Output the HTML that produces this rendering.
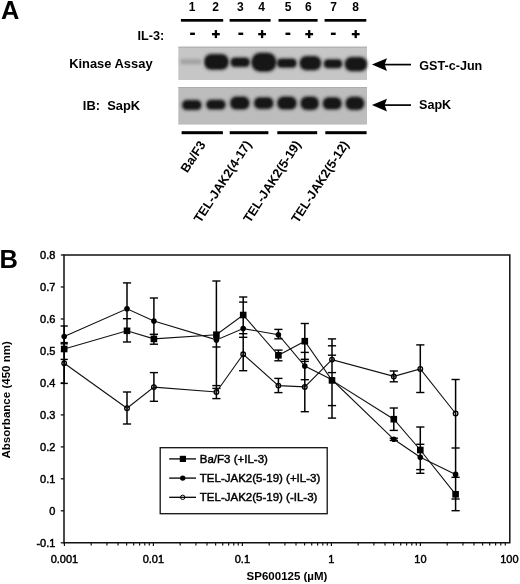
<!DOCTYPE html>
<html><head><meta charset="utf-8"><style>
html,body{margin:0;padding:0;background:#fff;}
body{width:520px;height:584px;overflow:hidden;}
svg{display:block;filter:blur(0.3px);font-family:"Liberation Sans", sans-serif;}
</style></head><body>
<svg width="520" height="584" viewBox="0 0 520 584">
<defs><filter id="bl" x="-10%" y="-30%" width="120%" height="160%"><feGaussianBlur stdDeviation="0.8"/></filter><filter id="bl2" x="-10%" y="-30%" width="120%" height="160%"><feGaussianBlur stdDeviation="1.6"/></filter></defs>
<rect width="520" height="584" fill="#fff"/>
<text x="1.0" y="19.0" font-size="25.4" font-weight="bold" text-anchor="start" >A</text>
<text x="192.2" y="10.8" font-size="12" font-weight="bold" text-anchor="middle" >1</text>
<text x="215.7" y="10.8" font-size="12" font-weight="bold" text-anchor="middle" >2</text>
<text x="240.4" y="10.8" font-size="12" font-weight="bold" text-anchor="middle" >3</text>
<text x="261.5" y="10.8" font-size="12" font-weight="bold" text-anchor="middle" >4</text>
<text x="288.0" y="10.8" font-size="12" font-weight="bold" text-anchor="middle" >5</text>
<text x="308.3" y="10.8" font-size="12" font-weight="bold" text-anchor="middle" >6</text>
<text x="333.5" y="10.8" font-size="12" font-weight="bold" text-anchor="middle" >7</text>
<text x="355.6" y="10.8" font-size="12" font-weight="bold" text-anchor="middle" >8</text>
<rect x="180.9" y="19.0" width="42.3" height="2.7" fill="#000"/>
<rect x="229.6" y="19.0" width="41.0" height="2.7" fill="#000"/>
<rect x="278.5" y="19.0" width="39.1" height="2.7" fill="#000"/>
<rect x="324.6" y="19.0" width="41.7" height="2.7" fill="#000"/>
<rect x="190.1" y="32.6" width="4.8" height="2.4" fill="#000"/>
<rect x="212.0" y="33.0" width="7.8" height="2.3" fill="#000"/>
<rect x="214.75" y="30.1" width="2.3" height="8.0" fill="#000"/>
<rect x="238.4" y="32.6" width="4.8" height="2.4" fill="#000"/>
<rect x="258.2" y="33.0" width="7.8" height="2.3" fill="#000"/>
<rect x="260.95" y="30.1" width="2.3" height="8.0" fill="#000"/>
<rect x="285.5" y="32.6" width="4.8" height="2.4" fill="#000"/>
<rect x="305.3" y="33.0" width="7.8" height="2.3" fill="#000"/>
<rect x="308.05" y="30.1" width="2.3" height="8.0" fill="#000"/>
<rect x="330.9" y="32.6" width="4.8" height="2.4" fill="#000"/>
<rect x="351.8" y="33.0" width="7.8" height="2.3" fill="#000"/>
<rect x="354.55" y="30.1" width="2.3" height="8.0" fill="#000"/>
<text x="164.3" y="40.0" font-size="12.7" font-weight="bold" text-anchor="end" >IL-3:</text>
<text x="69.2" y="67.7" font-size="12.9" font-weight="bold" text-anchor="start" >Kinase Assay</text>
<text x="82.8" y="109.6" font-size="12.9" font-weight="bold" text-anchor="start" >IB:&#160; SapK</text>
<rect x="178.3" y="46.7" width="188.7" height="33.3" fill="#c6c6c6"/><rect x="178.3" y="46.7" width="188.7" height="1.0" fill="#adadad"/><g filter="url(#bl2)"><rect x="179.3" y="58.0" width="23.4" height="7.4" rx="3.5" fill="#a4a4a4" opacity="0.35"/><rect x="203.1" y="53.0" width="26.6" height="17.8" rx="8.1" fill="#161616" opacity="0.35"/><rect x="229.6" y="56.4" width="21.2" height="11.6" rx="5.3" fill="#161616" opacity="0.35"/><rect x="250.4" y="51.7" width="27.0" height="21.0" rx="9.6" fill="#161616" opacity="0.35"/><rect x="276.0" y="57.4" width="21.6" height="11.4" rx="5.2" fill="#161616" opacity="0.35"/><rect x="298.6" y="55.1" width="23.6" height="16.1" rx="7.4" fill="#161616" opacity="0.35"/><rect x="322.8" y="58.3" width="20.4" height="10.9" rx="5.0" fill="#161616" opacity="0.35"/><rect x="343.7" y="56.1" width="24.4" height="16.1" rx="7.4" fill="#161616" opacity="0.35"/></g><g filter="url(#bl)"><rect x="180.8" y="59.5" width="20.4" height="4.4" rx="2.2" fill="#a4a4a4"/><rect x="204.6" y="54.5" width="23.6" height="14.8" rx="6.9" fill="#161616"/><rect x="231.1" y="57.9" width="18.2" height="8.6" rx="4.1" fill="#161616"/><rect x="251.9" y="53.2" width="24.0" height="18.0" rx="8.4" fill="#161616"/><rect x="277.5" y="58.9" width="18.6" height="8.4" rx="4.0" fill="#161616"/><rect x="300.1" y="56.6" width="20.6" height="13.1" rx="6.2" fill="#161616"/><rect x="324.3" y="59.8" width="17.4" height="7.9" rx="3.8" fill="#161616"/><rect x="345.2" y="57.6" width="21.4" height="13.1" rx="6.2" fill="#161616"/></g><rect x="178.3" y="87.0" width="188.7" height="37.6" fill="#bdbdbd"/><rect x="178.3" y="87.0" width="188.7" height="1.0" fill="#adadad"/><g filter="url(#bl2)"><rect x="181.1" y="99.1" width="21.4" height="11.9" rx="5.5" fill="#161616" opacity="0.35"/><rect x="205.2" y="98.7" width="21.4" height="11.9" rx="5.5" fill="#161616" opacity="0.35"/><rect x="229.1" y="95.5" width="21.4" height="15.1" rx="6.9" fill="#161616" opacity="0.35"/><rect x="253.0" y="96.3" width="21.4" height="13.7" rx="6.3" fill="#161616" opacity="0.35"/><rect x="276.2" y="95.5" width="21.4" height="15.1" rx="6.9" fill="#161616" opacity="0.35"/><rect x="299.5" y="95.5" width="20.4" height="15.5" rx="7.1" fill="#161616" opacity="0.35"/><rect x="321.7" y="96.3" width="21.0" height="14.3" rx="6.6" fill="#161616" opacity="0.35"/><rect x="344.5" y="95.8" width="20.8" height="15.2" rx="7.0" fill="#161616" opacity="0.35"/></g><g filter="url(#bl)"><rect x="182.6" y="100.6" width="18.4" height="8.9" rx="4.3" fill="#161616"/><rect x="206.7" y="100.2" width="18.4" height="8.9" rx="4.3" fill="#161616"/><rect x="230.6" y="97.0" width="18.4" height="12.1" rx="5.7" fill="#161616"/><rect x="254.5" y="97.8" width="18.4" height="10.7" rx="5.1" fill="#161616"/><rect x="277.7" y="97.0" width="18.4" height="12.1" rx="5.7" fill="#161616"/><rect x="301.0" y="97.0" width="17.4" height="12.5" rx="5.9" fill="#161616"/><rect x="323.2" y="97.8" width="18.0" height="11.3" rx="5.4" fill="#161616"/><rect x="346.0" y="97.3" width="17.8" height="12.2" rx="5.8" fill="#161616"/></g>
<path d="M371.9 64.6 L387.0 58.3 L384.6 64.6 L387.0 70.9 Z" fill="#000"/>
<rect x="384" y="63.75" width="27" height="1.7" fill="#000"/>
<path d="M371.9 105.1 L387.0 98.8 L384.6 105.1 L387.0 111.4 Z" fill="#000"/>
<rect x="384" y="104.25" width="27" height="1.7" fill="#000"/>
<text x="419.3" y="70.3" font-size="12.6" font-weight="bold" text-anchor="start" >GST-c-Jun</text>
<text x="419.0" y="108.9" font-size="12.6" font-weight="bold" text-anchor="start" >SapK</text>
<rect x="181.6" y="131.2" width="41.3" height="3.0" fill="#000"/>
<rect x="229.7" y="131.2" width="38.7" height="3.0" fill="#000"/>
<rect x="277.3" y="131.2" width="39.9" height="3.0" fill="#000"/>
<rect x="325.3" y="131.2" width="41.3" height="3.0" fill="#000"/>
<text x="0" y="0" font-size="12.7" font-weight="bold" text-anchor="end" transform="translate(206.1 144.5) rotate(-57)">Ba/F3</text>
<text x="0" y="0" font-size="12.7" font-weight="bold" text-anchor="end" transform="translate(252.0 144.2) rotate(-57)">TEL-JAK2(4-17)</text>
<text x="0" y="0" font-size="12.7" font-weight="bold" text-anchor="end" transform="translate(301.4 144.2) rotate(-57)">TEL-JAK2(5-19)</text>
<text x="0" y="0" font-size="12.7" font-weight="bold" text-anchor="end" transform="translate(349.4 144.4) rotate(-57)">TEL-JAK2(5-12)</text>
<text x="-0.5" y="267.6" font-size="25.5" font-weight="bold" text-anchor="start" >B</text>
<path d="M64.0 255.0 H509.8 V542.8 H64.0 Z" fill="none" stroke="#111" stroke-width="1.5"/>
<line x1="60.8" y1="255.0" x2="64.0" y2="255.0" stroke="#111" stroke-width="1.3"/>
<text x="55.4" y="259.0" font-size="11" font-weight="normal" text-anchor="end" stroke="#000" stroke-width="0.45" >0.8</text>
<line x1="60.8" y1="287.0" x2="64.0" y2="287.0" stroke="#111" stroke-width="1.3"/>
<text x="55.4" y="290.97777777777776" font-size="11" font-weight="normal" text-anchor="end" stroke="#000" stroke-width="0.45" >0.7</text>
<line x1="60.8" y1="319.0" x2="64.0" y2="319.0" stroke="#111" stroke-width="1.3"/>
<text x="55.4" y="322.9555555555555" font-size="11" font-weight="normal" text-anchor="end" stroke="#000" stroke-width="0.45" >0.6</text>
<line x1="60.8" y1="350.9" x2="64.0" y2="350.9" stroke="#111" stroke-width="1.3"/>
<text x="55.4" y="354.93333333333334" font-size="11" font-weight="normal" text-anchor="end" stroke="#000" stroke-width="0.45" >0.5</text>
<line x1="60.8" y1="382.9" x2="64.0" y2="382.9" stroke="#111" stroke-width="1.3"/>
<text x="55.4" y="386.9111111111111" font-size="11" font-weight="normal" text-anchor="end" stroke="#000" stroke-width="0.45" >0.4</text>
<line x1="60.8" y1="414.9" x2="64.0" y2="414.9" stroke="#111" stroke-width="1.3"/>
<text x="55.4" y="418.88888888888886" font-size="11" font-weight="normal" text-anchor="end" stroke="#000" stroke-width="0.45" >0.3</text>
<line x1="60.8" y1="446.9" x2="64.0" y2="446.9" stroke="#111" stroke-width="1.3"/>
<text x="55.4" y="450.8666666666667" font-size="11" font-weight="normal" text-anchor="end" stroke="#000" stroke-width="0.45" >0.2</text>
<line x1="60.8" y1="478.8" x2="64.0" y2="478.8" stroke="#111" stroke-width="1.3"/>
<text x="55.4" y="482.84444444444443" font-size="11" font-weight="normal" text-anchor="end" stroke="#000" stroke-width="0.45" >0.1</text>
<line x1="60.8" y1="510.8" x2="64.0" y2="510.8" stroke="#111" stroke-width="1.3"/>
<text x="55.4" y="514.8222222222222" font-size="11" font-weight="normal" text-anchor="end" stroke="#000" stroke-width="0.45" >0</text>
<line x1="60.8" y1="542.8" x2="64.0" y2="542.8" stroke="#111" stroke-width="1.3"/>
<text x="55.4" y="546.8" font-size="11" font-weight="normal" text-anchor="end" stroke="#000" stroke-width="0.45" >-0.1</text>
<line x1="64.4" y1="542.8" x2="64.4" y2="546.0" stroke="#111" stroke-width="1.2"/>
<line x1="91.2" y1="542.8" x2="91.2" y2="545.4" stroke="#111" stroke-width="1.2"/>
<line x1="106.9" y1="542.8" x2="106.9" y2="545.4" stroke="#111" stroke-width="1.2"/>
<line x1="118.0" y1="542.8" x2="118.0" y2="545.4" stroke="#111" stroke-width="1.2"/>
<line x1="126.6" y1="542.8" x2="126.6" y2="545.4" stroke="#111" stroke-width="1.2"/>
<line x1="133.7" y1="542.8" x2="133.7" y2="545.4" stroke="#111" stroke-width="1.2"/>
<line x1="139.6" y1="542.8" x2="139.6" y2="545.4" stroke="#111" stroke-width="1.2"/>
<line x1="144.8" y1="542.8" x2="144.8" y2="545.4" stroke="#111" stroke-width="1.2"/>
<line x1="149.3" y1="542.8" x2="149.3" y2="545.4" stroke="#111" stroke-width="1.2"/>
<line x1="153.4" y1="542.8" x2="153.4" y2="546.0" stroke="#111" stroke-width="1.2"/>
<line x1="180.2" y1="542.8" x2="180.2" y2="545.4" stroke="#111" stroke-width="1.2"/>
<line x1="195.9" y1="542.8" x2="195.9" y2="545.4" stroke="#111" stroke-width="1.2"/>
<line x1="207.0" y1="542.8" x2="207.0" y2="545.4" stroke="#111" stroke-width="1.2"/>
<line x1="215.6" y1="542.8" x2="215.6" y2="545.4" stroke="#111" stroke-width="1.2"/>
<line x1="222.7" y1="542.8" x2="222.7" y2="545.4" stroke="#111" stroke-width="1.2"/>
<line x1="228.6" y1="542.8" x2="228.6" y2="545.4" stroke="#111" stroke-width="1.2"/>
<line x1="233.8" y1="542.8" x2="233.8" y2="545.4" stroke="#111" stroke-width="1.2"/>
<line x1="238.3" y1="542.8" x2="238.3" y2="545.4" stroke="#111" stroke-width="1.2"/>
<line x1="242.4" y1="542.8" x2="242.4" y2="546.0" stroke="#111" stroke-width="1.2"/>
<line x1="269.2" y1="542.8" x2="269.2" y2="545.4" stroke="#111" stroke-width="1.2"/>
<line x1="284.9" y1="542.8" x2="284.9" y2="545.4" stroke="#111" stroke-width="1.2"/>
<line x1="296.0" y1="542.8" x2="296.0" y2="545.4" stroke="#111" stroke-width="1.2"/>
<line x1="304.6" y1="542.8" x2="304.6" y2="545.4" stroke="#111" stroke-width="1.2"/>
<line x1="311.7" y1="542.8" x2="311.7" y2="545.4" stroke="#111" stroke-width="1.2"/>
<line x1="317.6" y1="542.8" x2="317.6" y2="545.4" stroke="#111" stroke-width="1.2"/>
<line x1="322.8" y1="542.8" x2="322.8" y2="545.4" stroke="#111" stroke-width="1.2"/>
<line x1="327.3" y1="542.8" x2="327.3" y2="545.4" stroke="#111" stroke-width="1.2"/>
<line x1="331.4" y1="542.8" x2="331.4" y2="546.0" stroke="#111" stroke-width="1.2"/>
<line x1="358.2" y1="542.8" x2="358.2" y2="545.4" stroke="#111" stroke-width="1.2"/>
<line x1="373.9" y1="542.8" x2="373.9" y2="545.4" stroke="#111" stroke-width="1.2"/>
<line x1="385.0" y1="542.8" x2="385.0" y2="545.4" stroke="#111" stroke-width="1.2"/>
<line x1="393.6" y1="542.8" x2="393.6" y2="545.4" stroke="#111" stroke-width="1.2"/>
<line x1="400.7" y1="542.8" x2="400.7" y2="545.4" stroke="#111" stroke-width="1.2"/>
<line x1="406.6" y1="542.8" x2="406.6" y2="545.4" stroke="#111" stroke-width="1.2"/>
<line x1="411.8" y1="542.8" x2="411.8" y2="545.4" stroke="#111" stroke-width="1.2"/>
<line x1="416.3" y1="542.8" x2="416.3" y2="545.4" stroke="#111" stroke-width="1.2"/>
<line x1="420.4" y1="542.8" x2="420.4" y2="546.0" stroke="#111" stroke-width="1.2"/>
<line x1="447.2" y1="542.8" x2="447.2" y2="545.4" stroke="#111" stroke-width="1.2"/>
<line x1="462.9" y1="542.8" x2="462.9" y2="545.4" stroke="#111" stroke-width="1.2"/>
<line x1="474.0" y1="542.8" x2="474.0" y2="545.4" stroke="#111" stroke-width="1.2"/>
<line x1="482.6" y1="542.8" x2="482.6" y2="545.4" stroke="#111" stroke-width="1.2"/>
<line x1="489.7" y1="542.8" x2="489.7" y2="545.4" stroke="#111" stroke-width="1.2"/>
<line x1="495.6" y1="542.8" x2="495.6" y2="545.4" stroke="#111" stroke-width="1.2"/>
<line x1="500.8" y1="542.8" x2="500.8" y2="545.4" stroke="#111" stroke-width="1.2"/>
<line x1="505.3" y1="542.8" x2="505.3" y2="545.4" stroke="#111" stroke-width="1.2"/>
<text x="64.4" y="562.6" font-size="11" font-weight="normal" text-anchor="middle" stroke="#000" stroke-width="0.45" >0.001</text>
<text x="153.4" y="562.6" font-size="11" font-weight="normal" text-anchor="middle" stroke="#000" stroke-width="0.45" >0.01</text>
<text x="242.4" y="562.6" font-size="11" font-weight="normal" text-anchor="middle" stroke="#000" stroke-width="0.45" >0.1</text>
<text x="331.4" y="562.6" font-size="11" font-weight="normal" text-anchor="middle" stroke="#000" stroke-width="0.45" >1</text>
<text x="420.4" y="562.6" font-size="11" font-weight="normal" text-anchor="middle" stroke="#000" stroke-width="0.45" >10</text>
<text x="509.4" y="562.6" font-size="11" font-weight="normal" text-anchor="middle" stroke="#000" stroke-width="0.45" >100</text>
<text x="287.0" y="580.0" font-size="11.5" font-weight="bold" text-anchor="middle" >SP600125 (&#181;M)</text>
<text x="0" y="0" font-size="11.55" font-weight="bold" text-anchor="middle" transform="translate(9.9 399.8) rotate(-90)">Absorbance (450 nm)</text>
<line x1="64.2" y1="326" x2="64.2" y2="383.4" stroke="#000" stroke-width="1.5"/>
<line x1="60.6" y1="326" x2="67.8" y2="326" stroke="#000" stroke-width="1.4"/>
<line x1="60.6" y1="342.6" x2="67.8" y2="342.6" stroke="#000" stroke-width="1.4"/>
<line x1="60.6" y1="343.8" x2="67.8" y2="343.8" stroke="#000" stroke-width="1.4"/>
<line x1="60.6" y1="359.4" x2="67.8" y2="359.4" stroke="#000" stroke-width="1.4"/>
<line x1="60.6" y1="383.4" x2="67.8" y2="383.4" stroke="#000" stroke-width="1.4"/>
<line x1="127.0" y1="282.9" x2="127.0" y2="342" stroke="#000" stroke-width="1.5"/>
<line x1="127.0" y1="392" x2="127.0" y2="424" stroke="#000" stroke-width="1.5"/>
<line x1="122.9" y1="282.9" x2="131.1" y2="282.9" stroke="#000" stroke-width="1.4"/>
<line x1="122.9" y1="318.7" x2="131.1" y2="318.7" stroke="#000" stroke-width="1.4"/>
<line x1="122.9" y1="342" x2="131.1" y2="342" stroke="#000" stroke-width="1.4"/>
<line x1="122.9" y1="392" x2="131.1" y2="392" stroke="#000" stroke-width="1.4"/>
<line x1="122.9" y1="424" x2="131.1" y2="424" stroke="#000" stroke-width="1.4"/>
<line x1="153.9" y1="298" x2="153.9" y2="344.2" stroke="#000" stroke-width="1.5"/>
<line x1="153.9" y1="372.6" x2="153.9" y2="401.3" stroke="#000" stroke-width="1.5"/>
<line x1="149.8" y1="298" x2="158.0" y2="298" stroke="#000" stroke-width="1.4"/>
<line x1="149.8" y1="334.3" x2="158.0" y2="334.3" stroke="#000" stroke-width="1.4"/>
<line x1="149.8" y1="344.2" x2="158.0" y2="344.2" stroke="#000" stroke-width="1.4"/>
<line x1="149.8" y1="372.6" x2="158.0" y2="372.6" stroke="#000" stroke-width="1.4"/>
<line x1="149.8" y1="401.3" x2="158.0" y2="401.3" stroke="#000" stroke-width="1.4"/>
<line x1="216.4" y1="281" x2="216.4" y2="398.6" stroke="#000" stroke-width="1.5"/>
<line x1="212.3" y1="281" x2="220.5" y2="281" stroke="#000" stroke-width="1.4"/>
<line x1="212.3" y1="347" x2="220.5" y2="347" stroke="#000" stroke-width="1.4"/>
<line x1="212.3" y1="385.6" x2="220.5" y2="385.6" stroke="#000" stroke-width="1.4"/>
<line x1="212.3" y1="388.4" x2="220.5" y2="388.4" stroke="#000" stroke-width="1.4"/>
<line x1="212.3" y1="398.6" x2="220.5" y2="398.6" stroke="#000" stroke-width="1.4"/>
<line x1="243.2" y1="297" x2="243.2" y2="370.7" stroke="#000" stroke-width="1.5"/>
<line x1="239.1" y1="297" x2="247.3" y2="297" stroke="#000" stroke-width="1.4"/>
<line x1="239.1" y1="302.1" x2="247.3" y2="302.1" stroke="#000" stroke-width="1.4"/>
<line x1="239.1" y1="333.7" x2="247.3" y2="333.7" stroke="#000" stroke-width="1.4"/>
<line x1="239.1" y1="337.3" x2="247.3" y2="337.3" stroke="#000" stroke-width="1.4"/>
<line x1="239.1" y1="370.7" x2="247.3" y2="370.7" stroke="#000" stroke-width="1.4"/>
<line x1="278.4" y1="329.4" x2="278.4" y2="338.8" stroke="#000" stroke-width="1.5"/>
<line x1="278.4" y1="350.1" x2="278.4" y2="360.8" stroke="#000" stroke-width="1.5"/>
<line x1="278.4" y1="378.4" x2="278.4" y2="392.6" stroke="#000" stroke-width="1.5"/>
<line x1="274.3" y1="329.4" x2="282.5" y2="329.4" stroke="#000" stroke-width="1.4"/>
<line x1="274.3" y1="338.8" x2="282.5" y2="338.8" stroke="#000" stroke-width="1.4"/>
<line x1="274.3" y1="350.1" x2="282.5" y2="350.1" stroke="#000" stroke-width="1.4"/>
<line x1="274.3" y1="360.8" x2="282.5" y2="360.8" stroke="#000" stroke-width="1.4"/>
<line x1="274.3" y1="378.4" x2="282.5" y2="378.4" stroke="#000" stroke-width="1.4"/>
<line x1="274.3" y1="392.6" x2="282.5" y2="392.6" stroke="#000" stroke-width="1.4"/>
<line x1="304.8" y1="323.5" x2="304.8" y2="411.7" stroke="#000" stroke-width="1.5"/>
<line x1="300.7" y1="323.5" x2="308.9" y2="323.5" stroke="#000" stroke-width="1.4"/>
<line x1="300.7" y1="352.4" x2="308.9" y2="352.4" stroke="#000" stroke-width="1.4"/>
<line x1="300.7" y1="359.3" x2="308.9" y2="359.3" stroke="#000" stroke-width="1.4"/>
<line x1="300.7" y1="361.4" x2="308.9" y2="361.4" stroke="#000" stroke-width="1.4"/>
<line x1="300.7" y1="379.7" x2="308.9" y2="379.7" stroke="#000" stroke-width="1.4"/>
<line x1="300.7" y1="411.7" x2="308.9" y2="411.7" stroke="#000" stroke-width="1.4"/>
<line x1="332.0" y1="338.9" x2="332.0" y2="418.1" stroke="#000" stroke-width="1.5"/>
<line x1="327.9" y1="338.9" x2="336.1" y2="338.9" stroke="#000" stroke-width="1.4"/>
<line x1="327.9" y1="345.8" x2="336.1" y2="345.8" stroke="#000" stroke-width="1.4"/>
<line x1="327.9" y1="355.2" x2="336.1" y2="355.2" stroke="#000" stroke-width="1.4"/>
<line x1="327.9" y1="372.6" x2="336.1" y2="372.6" stroke="#000" stroke-width="1.4"/>
<line x1="327.9" y1="405.6" x2="336.1" y2="405.6" stroke="#000" stroke-width="1.4"/>
<line x1="327.9" y1="418.1" x2="336.1" y2="418.1" stroke="#000" stroke-width="1.4"/>
<line x1="393.8" y1="371" x2="393.8" y2="381.8" stroke="#000" stroke-width="1.5"/>
<line x1="393.8" y1="408" x2="393.8" y2="430.4" stroke="#000" stroke-width="1.5"/>
<line x1="389.7" y1="371" x2="397.9" y2="371" stroke="#000" stroke-width="1.4"/>
<line x1="389.7" y1="381.8" x2="397.9" y2="381.8" stroke="#000" stroke-width="1.4"/>
<line x1="389.7" y1="408" x2="397.9" y2="408" stroke="#000" stroke-width="1.4"/>
<line x1="389.7" y1="430.4" x2="397.9" y2="430.4" stroke="#000" stroke-width="1.4"/>
<line x1="389.7" y1="438.2" x2="397.9" y2="438.2" stroke="#000" stroke-width="1.4"/>
<line x1="389.7" y1="440.4" x2="397.9" y2="440.4" stroke="#000" stroke-width="1.4"/>
<line x1="420.3" y1="344.9" x2="420.3" y2="392.5" stroke="#000" stroke-width="1.5"/>
<line x1="420.3" y1="427" x2="420.3" y2="473.3" stroke="#000" stroke-width="1.5"/>
<line x1="416.2" y1="344.9" x2="424.4" y2="344.9" stroke="#000" stroke-width="1.4"/>
<line x1="416.2" y1="392.5" x2="424.4" y2="392.5" stroke="#000" stroke-width="1.4"/>
<line x1="416.2" y1="427" x2="424.4" y2="427" stroke="#000" stroke-width="1.4"/>
<line x1="416.2" y1="444.3" x2="424.4" y2="444.3" stroke="#000" stroke-width="1.4"/>
<line x1="416.2" y1="469.6" x2="424.4" y2="469.6" stroke="#000" stroke-width="1.4"/>
<line x1="416.2" y1="473.3" x2="424.4" y2="473.3" stroke="#000" stroke-width="1.4"/>
<line x1="455.6" y1="379.5" x2="455.6" y2="510.7" stroke="#000" stroke-width="1.5"/>
<line x1="451.5" y1="379.5" x2="459.7" y2="379.5" stroke="#000" stroke-width="1.4"/>
<line x1="451.5" y1="448" x2="459.7" y2="448" stroke="#000" stroke-width="1.4"/>
<line x1="451.5" y1="477.3" x2="459.7" y2="477.3" stroke="#000" stroke-width="1.4"/>
<line x1="451.5" y1="499" x2="459.7" y2="499" stroke="#000" stroke-width="1.4"/>
<line x1="451.5" y1="510.7" x2="459.7" y2="510.7" stroke="#000" stroke-width="1.4"/>
<polyline points="64.2,349 127.0,330.8 153.9,338.9 216.4,334.7 243.2,315 278.4,355.3 304.8,341.2 332.0,380.4 393.8,419.2 420.3,450.0 455.6,494.3" fill="none" stroke="#111" stroke-width="1.1"/>
<polyline points="64.2,336.5 127.0,308.8 153.9,321.1 216.4,339.9 243.2,328.6 278.4,334.7 304.8,366.1 332.0,379.8 393.8,439.3 420.3,457.3 455.6,474.4" fill="none" stroke="#111" stroke-width="1.1"/>
<polyline points="64.2,363.3 127.0,408.2 153.9,387.1 216.4,392 243.2,354.3 278.4,385.6 304.8,386.9 332.0,359.6 393.8,376.4 420.3,369.0 455.6,413.5" fill="none" stroke="#111" stroke-width="1.1"/>
<rect x="60.9" y="345.7" width="6.6" height="6.6" fill="#000"/>
<circle cx="64.2" cy="336.5" r="2.8" fill="#000"/>
<circle cx="64.2" cy="363.3" r="2.3" fill="none" stroke="#000" stroke-width="1.3"/>
<rect x="123.7" y="327.5" width="6.6" height="6.6" fill="#000"/>
<circle cx="127.0" cy="308.8" r="2.8" fill="#000"/>
<circle cx="127.0" cy="408.2" r="2.3" fill="none" stroke="#000" stroke-width="1.3"/>
<rect x="150.6" y="335.6" width="6.6" height="6.6" fill="#000"/>
<circle cx="153.9" cy="321.1" r="2.8" fill="#000"/>
<circle cx="153.9" cy="387.1" r="2.3" fill="none" stroke="#000" stroke-width="1.3"/>
<rect x="213.1" y="331.4" width="6.6" height="6.6" fill="#000"/>
<circle cx="216.4" cy="339.9" r="2.8" fill="#000"/>
<circle cx="216.4" cy="392" r="2.3" fill="none" stroke="#000" stroke-width="1.3"/>
<rect x="239.9" y="311.7" width="6.6" height="6.6" fill="#000"/>
<circle cx="243.2" cy="328.6" r="2.8" fill="#000"/>
<circle cx="243.2" cy="354.3" r="2.3" fill="none" stroke="#000" stroke-width="1.3"/>
<rect x="275.1" y="352.0" width="6.6" height="6.6" fill="#000"/>
<circle cx="278.4" cy="334.7" r="2.8" fill="#000"/>
<circle cx="278.4" cy="385.6" r="2.3" fill="none" stroke="#000" stroke-width="1.3"/>
<rect x="301.5" y="337.9" width="6.6" height="6.6" fill="#000"/>
<circle cx="304.8" cy="366.1" r="2.8" fill="#000"/>
<circle cx="304.8" cy="386.9" r="2.3" fill="none" stroke="#000" stroke-width="1.3"/>
<rect x="328.7" y="377.1" width="6.6" height="6.6" fill="#000"/>
<circle cx="332.0" cy="379.8" r="2.8" fill="#000"/>
<circle cx="332.0" cy="359.6" r="2.3" fill="none" stroke="#000" stroke-width="1.3"/>
<rect x="390.5" y="415.9" width="6.6" height="6.6" fill="#000"/>
<circle cx="393.8" cy="439.3" r="2.8" fill="#000"/>
<circle cx="393.8" cy="376.4" r="2.3" fill="none" stroke="#000" stroke-width="1.3"/>
<rect x="417.0" y="446.7" width="6.6" height="6.6" fill="#000"/>
<circle cx="420.3" cy="457.3" r="2.8" fill="#000"/>
<circle cx="420.3" cy="369.0" r="2.3" fill="none" stroke="#000" stroke-width="1.3"/>
<rect x="452.3" y="491.0" width="6.6" height="6.6" fill="#000"/>
<circle cx="455.6" cy="474.4" r="2.8" fill="#000"/>
<circle cx="455.6" cy="413.5" r="2.3" fill="none" stroke="#000" stroke-width="1.3"/>
<rect x="160.2" y="447.7" width="167.0" height="66.0" fill="#fff" stroke="#111" stroke-width="1.3"/>
<line x1="169.2" y1="458.9" x2="196" y2="458.9" stroke="#000" stroke-width="1.3"/>
<rect x="179.8" y="455.8" width="6.2" height="6.2" fill="#000"/>
<line x1="169.2" y1="478.1" x2="196" y2="478.1" stroke="#000" stroke-width="1.3"/>
<circle cx="182.7" cy="478.1" r="2.7" fill="#000"/>
<line x1="169.2" y1="497.3" x2="196" y2="497.3" stroke="#000" stroke-width="1.3"/>
<circle cx="182.7" cy="497.3" r="2.2" fill="none" stroke="#000" stroke-width="1.0"/>
<text x="199.8" y="462.9" font-size="11.5" font-weight="normal" text-anchor="start" stroke="#000" stroke-width="0.45" >Ba/F3 (+IL-3)</text>
<text x="199.8" y="482.1" font-size="11.5" font-weight="normal" text-anchor="start" stroke="#000" stroke-width="0.45" >TEL-JAK2(5-19) (+IL-3)</text>
<text x="199.8" y="501.3" font-size="11.5" font-weight="normal" text-anchor="start" stroke="#000" stroke-width="0.45" >TEL-JAK2(5-19) (-IL-3)</text>
</svg>
</body></html>
